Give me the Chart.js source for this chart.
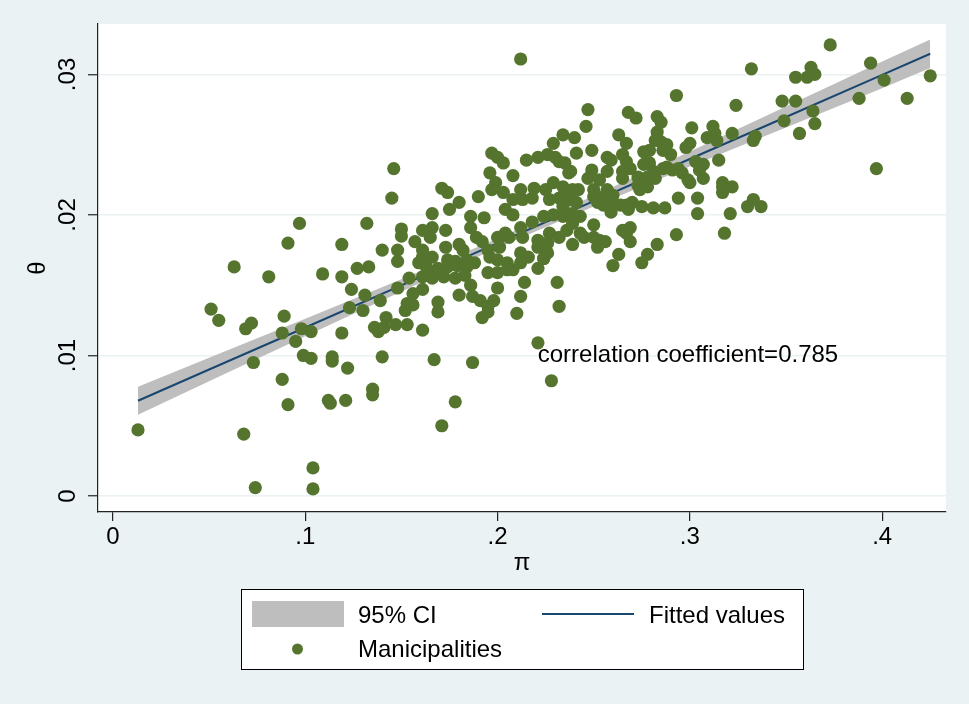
<!DOCTYPE html>
<html>
<head>
<meta charset="utf-8">
<title>theta vs pi</title>
<script src="https://cdn.jsdelivr.net/npm/chart.js@4.4.1/dist/chart.umd.min.js"></script>
<style>
    html, body { margin: 0; padding: 0; background: #eaf2f3; }
    #graph1 { display: block; }
</style>
</head>
<body>
<canvas id="graph1" width="969" height="704"></canvas>
<script>
// Municipalities (pi, theta)
const munX = [
    .013,.068,.074,.104,.104,.063,.081,.051,.055,.069,
    .072,.089,.088,.095,.098,.103,.073,.088,.091,.099,
    .103,.114,.114,.122,.112,.113,.121,.135,.135,.140,
    .119,.123,.130,.124,.131,.139,.142,.136,.138,.141,
    .147,.148,.109,.119,.127,.133,.140,.148,.148,.091,
    .119,.097,.132,.146,.145,.150,.150,.157,.161,.166,
    .173,.171,.174,.175,.166,.190,.197,.203,.196,.199,
    .197,.203,.208,.215,.221,.226,.230,.235,.237,.241,
    .212,.219,.225,.229,.234,.208,.213,.218,.227,.232,
    .238,.186,.193,.204,.208,.165,.173,.180,.182,.161,
    .161,.166,.174,.178,.184,.188,.186,.189,.192,.195,
    .200,.204,.201,.206,.212,.218,.224,.229,.234,.239,
    .213,.221,.227,.232,.221,.226,.239,.212,.216,.224,
    .221,.196,.200,.205,.208,.212,.195,.200,.205,.159,
    .163,.169,.174,.179,.184,.161,.166,.172,.178,.183,
    .154,.161,.156,.153,.156,.152,.153,.161,.169,.169,
    .180,.186,.187,.191,.195,.198,.192,.195,.200,.212,
    .214,.210,.231,.232,.167,.187,.178,.171,.221,.228,
    .293,.324,.247,.268,.272,.283,.285,.246,.301,.312,
    .313,.234,.240,.263,.283,.282,.285,.288,.309,.314,
    .322,.333,.267,.300,.298,.249,.257,.259,.265,.267,
    .276,.279,.286,.290,.232,.238,.315,.303,.307,.305,
    .307,.276,.279,.281,.286,.288,.291,.294,.296,.299,
    .300,.249,.257,.265,.269,.247,.253,.265,.273,.278,
    .282,.273,.278,.274,.317,.317,.322,.317,.239,.242,
    .250,.250,.255,.260,.257,.236,.241,.234,.294,.304,
    .333,.330,.252,.255,.260,.264,.267,.270,.275,.281,
    .287,.268,.259,.304,.321,.243,.239,.236,.250,.243,
    .245,.250,.253,.256,.252,.265,.269,.267,.269,.283,
    .293,.318,.263,.260,.278,.275,.224,.373,.332,.355,
    .363,.361,.365,.394,.401,.425,.348,.355,.364,.349,
    .365,.357,.388,.413,.334,.397,.337,.212,.200,.229,
    .180,.226
];
const munY = [
    .0047,.0044,.0006,.0020,.0005,.0163,.0156,.0133,.0125,.0119,
    .0123,.0128,.0116,.0110,.0119,.0117,.0095,.0083,.0065,.0100,
    .0098,.0099,.0096,.0091,.0068,.0066,.0068,.0076,.0072,.0099,
    .0116,.0134,.0132,.0147,.0143,.0139,.0127,.0120,.0117,.0120,
    .0122,.0148,.0158,.0156,.0162,.0163,.0175,.0175,.0167,.0180,
    .0179,.0194,.0194,.0233,.0212,.0190,.0185,.0181,.0189,.0191,
    .0189,.0219,.0216,.0204,.0201,.0213,.0244,.0237,.0230,.0223,
    .0218,.0216,.0228,.0239,.0241,.0243,.0241,.0237,.0230,.0244,
    .0218,.0219,.0218,.0223,.0220,.0211,.0211,.0212,.0211,.0212,
    .0211,.0199,.0198,.0204,.0200,.0184,.0177,.0179,.0175,.0175,
    .0170,.0170,.0168,.0167,.0168,.0166,.0191,.0184,.0181,.0175,
    .0184,.0187,.0177,.0184,.0191,.0195,.0199,.0200,.0199,.0201,
    .0184,.0182,.0187,.0184,.0177,.0180,.0179,.0173,.0170,.0169,
    .0162,.0170,.0168,.0166,.0161,.0166,.0159,.0159,.0161,.0166,
    .0163,.0162,.0163,.0164,.0163,.0156,.0155,.0156,.0155,.0157,
    .0155,.0147,.0144,.0137,.0136,.0132,.0122,.0118,.0138,.0131,
    .0143,.0150,.0142,.0139,.0135,.0139,.0127,.0131,.0148,.0142,
    .0152,.0130,.0152,.0135,.0097,.0095,.0067,.0050,.0109,.0082,
    .0285,.0278,.0275,.0273,.0269,.0270,.0266,.0263,.0262,.0263,
    .0258,.0257,.0255,.0257,.0259,.0253,.0252,.0250,.0255,.0253,
    .0258,.0253,.0251,.0251,.0248,.0246,.0241,.0239,.0243,.0238,
    .0245,.0246,.0246,.0243,.0238,.0231,.0239,.0238,.0236,.0232,
    .0226,.0236,.0237,.0231,.0233,.0234,.0232,.0233,.0230,.0225,
    .0223,.0232,.0231,.0231,.0233,.0226,.0225,.0226,.0227,.0227,
    .0226,.0221,.0220,.0218,.0223,.0220,.0220,.0216,.0218,.0218,
    .0218,.0213,.0213,.0214,.0218,.0213,.0209,.0206,.0212,.0212,
    .0211,.0206,.0209,.0207,.0209,.0207,.0207,.0209,.0206,.0205,
    .0205,.0204,.0202,.0201,.0201,.0199,.0194,.0189,.0193,.0187,
    .0184,.0184,.0182,.0181,.0177,.0189,.0191,.0187,.0181,.0179,
    .0186,.0187,.0172,.0164,.0172,.0166,.0169,.0321,.0304,.0298,
    .0305,.0298,.0300,.0308,.0296,.0299,.0281,.0281,.0274,.0267,
    .0265,.0258,.0283,.0283,.0256,.0233,.0206,.0311,.0241,.0251,
    .0209,.0173
];

// fitted line and 95% CI band
const ciX    = [0.013, 0.05, 0.1, 0.15, 0.2, 0.25, 0.3, 0.35, 0.4, 0.425];
const fitY   = [0.00678, 0.00900, 0.01199, 0.01499, 0.01799, 0.02098, 0.02398, 0.02697, 0.02997, 0.03147];
const ciLow  = [0.00578, 0.00817, 0.01137, 0.01455, 0.01766, 0.02060, 0.02344, 0.02623, 0.02901, 0.03046];
const ciHigh = [0.00778, 0.00983, 0.01261, 0.01543, 0.01832, 0.02136, 0.02452, 0.02771, 0.03093, 0.03248];

const xTicks = [0, 0.1, 0.2, 0.3, 0.4];
const xTickLabels = ['0', '.1', '.2', '.3', '.4'];
const yTicks = [0, 0.01, 0.02, 0.03];
const yTickLabels = ['0', '.01', '.02', '.03'];

const xTitle = 'π';
const yTitle = 'θ';
const corrText = 'correlation coefficient=0.785';
const corrAt = { x: 0.2209, y: 0.0095 };

const FONT = '24px "Liberation Sans", Arial, sans-serif';
const GREEN = '#55752f';
const NAVY = '#1a476f';
const BAND = '#bebebe';

function toPoints(xs, ys) {
    return xs.map((x, i) => ({ x: x, y: ys[i] }));
}

// white plot region behind everything
const plotBackground = {
    id: 'plotBackground',
    beforeDraw(chart) {
        const a = chart.chartArea;
        const ctx = chart.ctx;
        ctx.save();
        ctx.fillStyle = '#ffffff';
        ctx.fillRect(a.left, a.top, a.right - a.left, a.bottom - a.top);
        ctx.restore();
    }
};

// tick labels, titles, note and legend, drawn Stata-style
const stataText = {
    id: 'stataText',
    afterDraw(chart) {
        const ctx = chart.ctx;
        const xs = chart.scales.x;
        const ys = chart.scales.y;
        const a = chart.chartArea;
        ctx.save();
        ctx.fillStyle = '#000';
        ctx.font = FONT;
        ctx.textBaseline = 'alphabetic';

        ctx.textAlign = 'center';
        xTicks.forEach((v, i) => {
            ctx.fillText(xTickLabels[i], xs.getPixelForValue(v), 544);
        });
        yTicks.forEach((v, i) => {
            ctx.save();
            ctx.translate(75, ys.getPixelForValue(v));
            ctx.rotate(-Math.PI / 2);
            ctx.fillText(yTickLabels[i], 0, 0);
            ctx.restore();
        });

        ctx.fillText(xTitle, (a.left + a.right) / 2, 570);
        ctx.save();
        ctx.translate(45, (a.top + a.bottom) / 2);
        ctx.rotate(-Math.PI / 2);
        ctx.fillText(yTitle, 0, 0);
        ctx.restore();

        ctx.textAlign = 'left';
        ctx.fillText(corrText, xs.getPixelForValue(corrAt.x), ys.getPixelForValue(corrAt.y));

        // legend box
        ctx.fillStyle = '#ffffff';
        ctx.fillRect(241, 589, 562, 80);
        ctx.strokeStyle = '#000';
        ctx.lineWidth = 1;
        ctx.strokeRect(241.5, 589.5, 562, 80);

        ctx.fillStyle = BAND;
        ctx.fillRect(252, 601, 92, 26);
        ctx.strokeStyle = NAVY;
        ctx.lineWidth = 2;
        ctx.beginPath();
        ctx.moveTo(542, 614);
        ctx.lineTo(634, 614);
        ctx.stroke();
        ctx.fillStyle = GREEN;
        ctx.beginPath();
        ctx.arc(297.5, 649, 5.5, 0, Math.PI * 2);
        ctx.fill();

        const ds = chart.data.datasets;
        ctx.fillStyle = '#000';
        ctx.fillText(ds[3].label, 358, 623);
        ctx.fillText(ds[1].label, 649, 623);
        ctx.fillText(ds[0].label, 358, 657);
        ctx.restore();
    }
};

function generateChart() {
    const ctx = document.getElementById('graph1').getContext('2d');
    new Chart(ctx, {
        type: 'scatter',
        data: {
            datasets: [{
                label: 'Manicipalities',
                data: toPoints(munX, munY),
                backgroundColor: GREEN,
                borderWidth: 0,
                pointRadius: 6.6,
                order: 0
            }, {
                label: 'Fitted values',
                type: 'line',
                data: toPoints(ciX, fitY),
                borderColor: NAVY,
                borderWidth: 2,
                pointRadius: 0,
                fill: false,
                order: 1
            }, {
                label: 'ci low',
                type: 'line',
                data: toPoints(ciX, ciLow),
                borderColor: 'rgba(0,0,0,0)',
                borderWidth: 0,
                pointRadius: 0,
                fill: false,
                order: 2
            }, {
                label: '95% CI',
                type: 'line',
                data: toPoints(ciX, ciHigh),
                borderColor: 'rgba(0,0,0,0)',
                backgroundColor: BAND,
                borderWidth: 0,
                pointRadius: 0,
                fill: '-1',
                order: 2
            }]
        },
        options: {
            responsive: false,
            devicePixelRatio: 1,
            animation: false,
            layout: {
                padding: { left: 0, right: 23, top: 24, bottom: 172 }
            },
            plugins: {
                legend: { display: false },
                tooltip: { enabled: false }
            },
            scales: {
                x: {
                    type: 'linear',
                    min: -0.0078,
                    max: 0.4332,
                    afterBuildTicks: (s) => { s.ticks = xTicks.map(v => ({ value: v })); },
                    afterFit: (s) => { s.height = 20; },
                    ticks: { display: false },
                    grid: {
                        drawOnChartArea: false,
                        drawTicks: true,
                        tickLength: 9,
                        color: '#222',
                        tickColor: '#222',
                        lineWidth: 1.2
                    },
                    border: { display: true, color: '#222', width: 1.2 }
                },
                y: {
                    type: 'linear',
                    min: -0.00114,
                    max: 0.03359,
                    afterBuildTicks: (s) => { s.ticks = yTicks.map(v => ({ value: v })); },
                    afterFit: (s) => { s.width = 98; },
                    ticks: { display: false },
                    grid: {
                        color: '#eaf2f3',
                        lineWidth: 1.5,
                        drawTicks: true,
                        tickLength: 10,
                        tickColor: '#222',
                        tickWidth: 1.2
                    },
                    border: { display: true, color: '#222', width: 1.2 }
                }
            }
        },
        plugins: [plotBackground, stataText]
    });
}

document.addEventListener('DOMContentLoaded', function () {
    generateChart();
});
</script>
</body>
</html>
